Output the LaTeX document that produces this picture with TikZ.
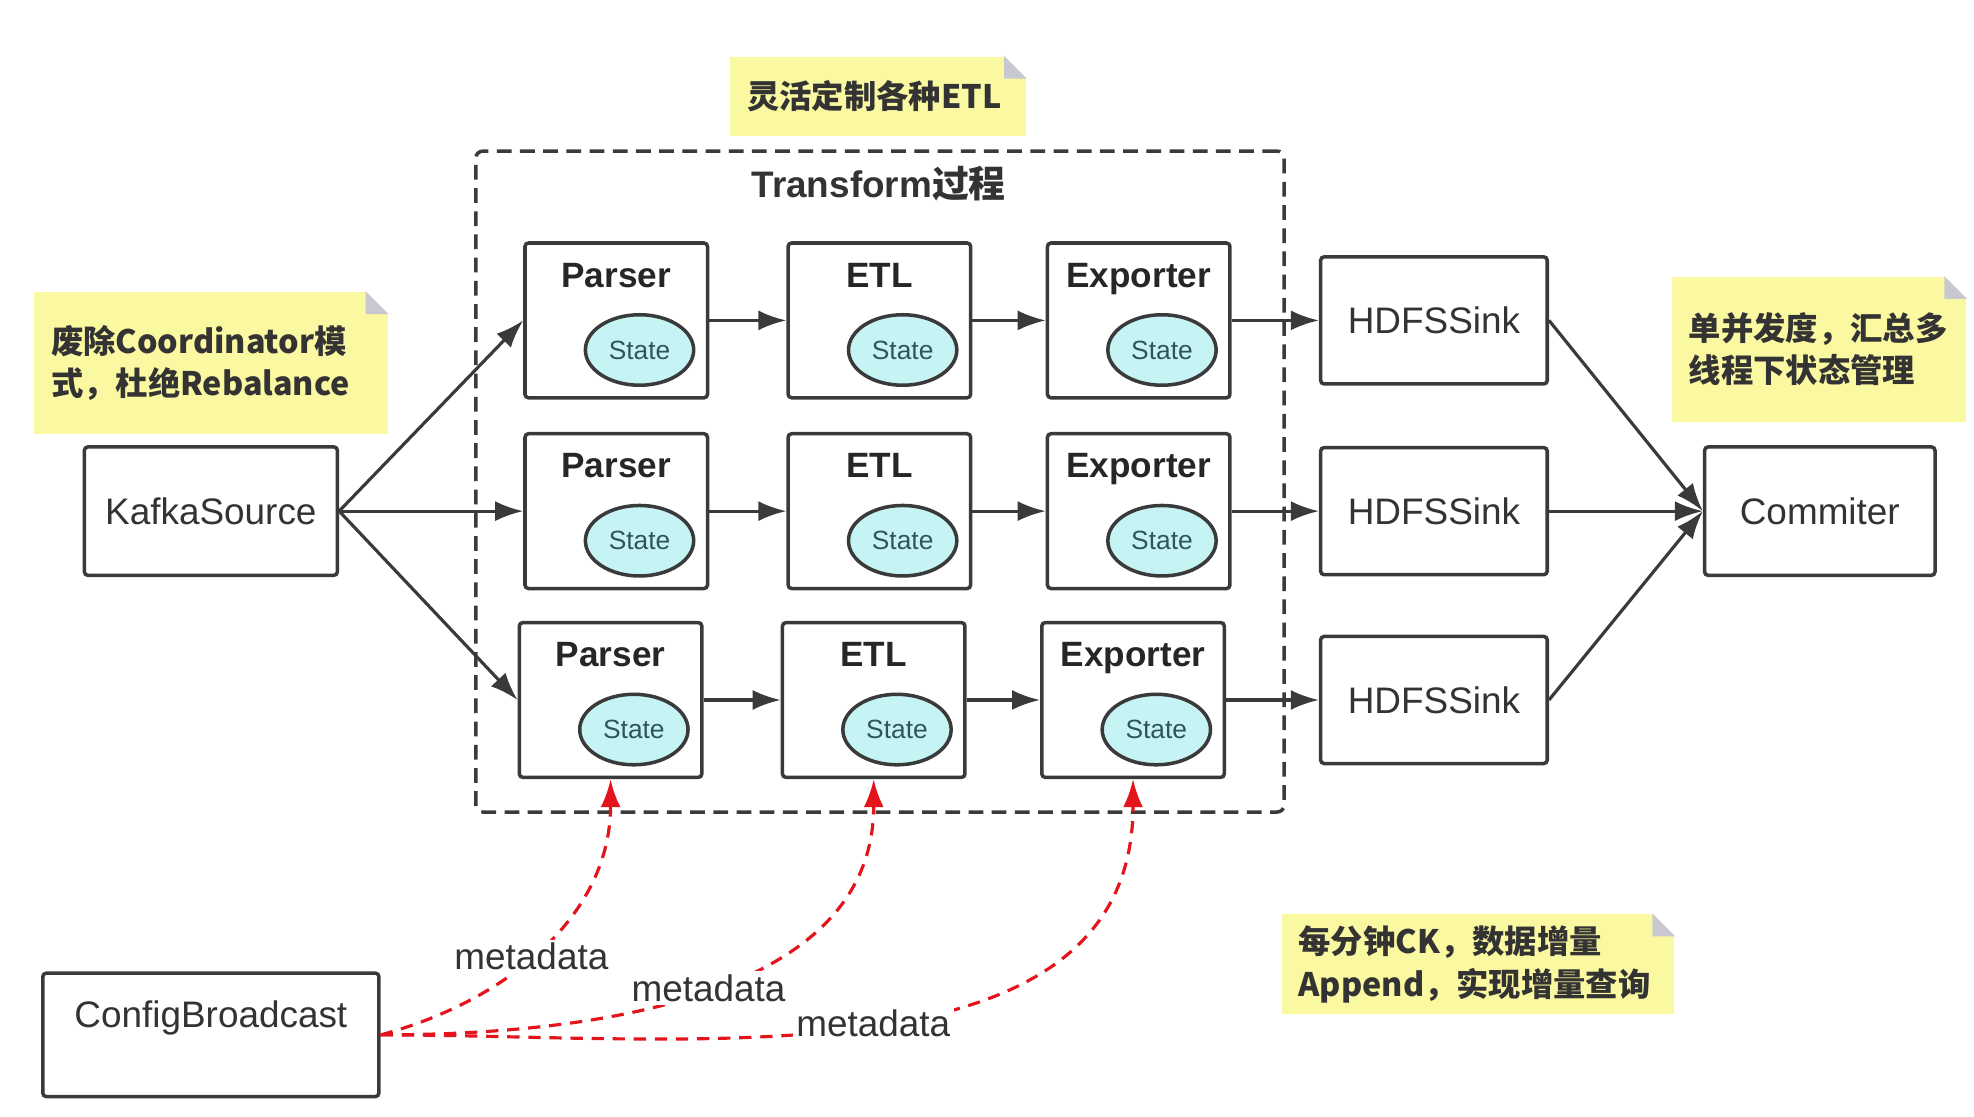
\documentclass[tikz,border=0pt]{standalone}
\usepackage{fontspec}
\setmainfont{Liberation Sans}
\newfontfamily\cjk{Noto Sans CJK SC}
\usepackage{xcolor}
\usepackage{tikz}
\usetikzlibrary{arrows.meta, positioning, shapes.geometric}

\definecolor{boxline}{HTML}{3A3A3A}
\definecolor{statefill}{HTML}{C6F4F4}
\definecolor{statetext}{HTML}{2F5656}
\definecolor{notefill}{HTML}{FBF8A2}
\definecolor{foldgray}{HTML}{C8C8D0}
\definecolor{metared}{HTML}{E3141C}
\definecolor{textgray}{HTML}{333333}

\begin{document}
\begin{tikzpicture}[x=0.012589cm, y=-0.012589cm,
    box/.style={draw=boxline, line width=1pt, rounded corners=1pt, fill=white, text=textgray, font=\fontsize{10.5}{12}\selectfont},
    stage/.style={box, minimum width=1.825cm, minimum height=1.548cm},
    stagename/.style={anchor=base, inner sep=0pt, text=black!85, font=\bfseries\fontsize{10}{12}\selectfont},
    state/.style={ellipse, draw=boxline, line width=1pt, fill=statefill, minimum width=1.083cm, minimum height=0.705cm, inner sep=0pt, text=statetext, font=\fontsize{7.5}{9}\selectfont},
    note/.style={fill=notefill, inner xsep=0.17cm, align=left, text=textgray, font=\cjk\bfseries\fontsize{9.2}{12}\selectfont},
    flow/.style={draw=boxline, line width=0.9pt, -{Latex[length=2.8mm, width=2mm]}},
    meta/.style={draw=metared, line width=0.9pt, dash pattern=on 3.5pt off 2.5pt, -{Latex[length=2.8mm, width=2mm]}},
    metalabel/.style={fill=white, inner sep=1pt, text=textgray, font=\fontsize{10.5}{12}\selectfont}]

    \useasboundingbox (0,0) rectangle (1568,887);

    \node[draw=boxline, line width=1pt, dash pattern=on 4.2pt off 2.4pt, rounded corners=2pt, minimum width=8.082cm, minimum height=6.609cm] (transform) at (699, 382.5) {};
    \node[text=textgray, font=\bfseries\fontsize{10.5}{12}\selectfont] (transformtitle) at (698, 146) {Transform{\cjk 过程}};

    \node[note, text width=2.618cm, minimum height=0.793cm] (etlnote) at (697.5, 76.5) {灵活定制各种ETL};
    \node[note, text width=3.197cm, minimum height=1.423cm] (coordnote) at (167.5, 288.5) {废除Coordinator模\\式，杜绝Rebalance};
    \node[note, text width=2.606cm, minimum height=1.448cm] (commitnote) at (1445, 277.5) {单并发度，汇总多\\线程下状态管理};
    \node[note, text width=3.588cm, minimum height=0.982cm] (cknote) at (1174, 766) {每分钟CK，数据增量\\Append，实现增量查询};
    \foreach \n in {etlnote, coordnote, commitnote, cknote} {
        \fill[white] (\n.north east) -- ++(-0.227cm,0cm) -- ++(0.227cm,-0.227cm) -- cycle;
        \fill[foldgray] ([xshift=-0.227cm]\n.north east) -- ++(0.227cm,-0.227cm) -- ++(-0.227cm,0cm) -- cycle;
    }

    \node[box, minimum width=2.530cm, minimum height=1.284cm] (kafka) at (167.5, 406) {KafkaSource};
    \node[box, minimum width=2.304cm, minimum height=1.284cm] (commiter) at (1445.5, 406) {Commiter};
    \node[box, minimum width=3.361cm, minimum height=1.234cm, text height=0.3cm, text depth=0.45cm] (config) at (167.5, 822) {ConfigBroadcast};

    \foreach \r/\y/\dx in {1/254.5/0, 2/406/0, 3/556/-4.5} {
        \foreach \s/\x/\t in {parser/489.5/Parser, etl/698.5/ETL, exporter/904.5/Exporter} {
            \node[stage] (\s\r) at (\x+\dx, \y) {};
            \node[stagename] (\s name\r) at (\x+\dx, \y-26.5) {\t};
            \node[state] (\s state\r) at (\x+\dx+18.5, \y+23.5) {State};
        }
        \node[box, minimum width=2.266cm, minimum height=1.271cm] (sink\r) at (1139, \y) {HDFSSink};

        \draw[flow] (kafka.east) -- (parser\r.west);
        \draw[flow] (parser\r) -- (etl\r);
        \draw[flow] (etl\r) -- (exporter\r);
        \draw[flow] (exporter\r) -- (sink\r);
        \draw[flow] (sink\r.east) -- (commiter.west);
    }

    \draw[meta] (config.east) to[out=15, in=-90] node[metalabel, pos=0.45] (meta1) {metadata} (parser3.south);
    \draw[meta] (config.east) to[out=0, in=-90] node[metalabel, pos=0.5] (meta2) {metadata} (etl3.south);
    \draw[meta] (config.east) to[out=0, in=-90] node[metalabel, pos=0.5] (meta3) {metadata} (exporter3.south);
\end{tikzpicture}
\end{document}
